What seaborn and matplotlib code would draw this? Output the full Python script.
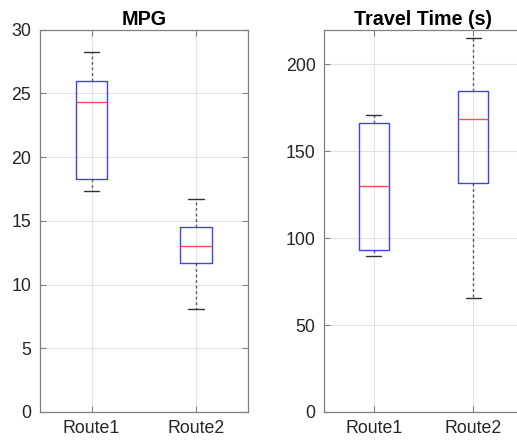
import numpy as np
import pandas as pd
import seaborn as sns
import matplotlib
matplotlib.use("Agg")
import matplotlib.pyplot as plt

routes = ["Route1", "Route2"]
# five-number summaries: min, Q1, median, Q3, max
mpg_route1 = [17.33, 18.27, 24.29, 26.0, 28.26]
mpg_route2 = [8.05, 11.66, 13.02, 14.49, 16.7]
time_route1 = [89.5, 93.2, 130.2, 166.4, 171.0]
time_route2 = [65.7, 131.9, 168.5, 184.6, 214.9]

df = pd.DataFrame({
    "route": [routes[0]] * 5 + [routes[1]] * 5,
    "MPG": mpg_route1 + mpg_route2,
    "Time": time_route1 + time_route2,
})

sns.set_theme(style="white")
plt.rcParams["font.family"] = ["Liberation Sans", "DejaVu Sans"]

W, H = 517, 443
fig = plt.figure(figsize=(W / 100, H / 100), dpi=100)
ax1 = fig.add_axes([39.5 / W, 31 / H, 208.5 / W, 382.5 / H])
ax2 = fig.add_axes([324 / W, 31 / H, 198.8 / W, 382.5 / H])

axc = "#262626"
for ax, col, title, ylim, yt in [
    (ax1, "MPG", "MPG", (0, 30), [0, 5, 10, 15, 20, 25, 30]),
    (ax2, "Time", "Travel Time (s)", (0, 220), [0, 50, 100, 150, 200]),
]:
    sns.boxplot(
        data=df, x="route", y=col, ax=ax, width=0.3, fill=False,
        whis=np.inf, color=(0.25, 0.25, 1.0), linewidth=1.0,
        medianprops=dict(color=(1.0, 0.3, 0.3), linewidth=1.0),
        whiskerprops=dict(color=(0.35, 0.35, 0.35), linestyle=(0, (2, 2)), linewidth=1.0),
        capprops=dict(color=(0.2, 0.2, 0.2), linewidth=1.0),
    )
    ax.set_xlim(-0.5, 1.5)
    ax.set_ylim(*ylim)
    ax.set_yticks(yt)
    ax.set_xlabel("")
    ax.set_ylabel("")
    ax.set_title(title, fontsize=14.2, fontweight="bold", pad=3, color="black")
    ax.grid(True, color="#e3e3e3", linewidth=0.8)
    ax.set_axisbelow(True)
    for s in ax.spines.values():
        s.set_color("#808080")
        s.set_linewidth(0.9)
        s.set_visible(True)
    ax.tick_params(axis="both", direction="in", length=4, width=0.8, color="#808080",
                   labelsize=12.8, labelcolor=axc, right=True, top=True, left=True, bottom=True, pad=6)

ax2.spines["right"].set_visible(False)
ax2.tick_params(axis="y", right=False)

fig.savefig("out.png", dpi=100, facecolor="white", edgecolor="none")
